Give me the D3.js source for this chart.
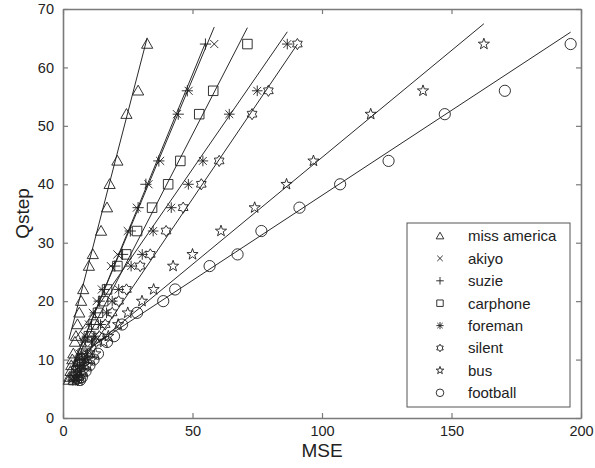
<!DOCTYPE html>
<html><head><meta charset="utf-8">
<script src="https://cdn.jsdelivr.net/npm/d3@7/dist/d3.min.js"></script>
<style>body{margin:0;background:#fff} text{font-family:"Liberation Sans",Arial,Helvetica,sans-serif;fill:#222}</style>
</head><body><svg id="c" width="595" height="468"></svg>
<script>
// ---- data ----
const qsteps = [64,56,52,44,40,36,32,28,26,22,20,18,16,14,13,11,10,9,8,7,6.5];
const seriesNames = ["miss america","akiyo","suzie","carphone","foreman","silent","bus","football"];
const seriesMarkers = ["triangle","x","plus","square","asterisk","hexagram","pentagram","circle"];
const mseMissAmerica = [32.5,29,24.5,21,18,17,14.7,11.5,10,7.8,7,6.3,5.6,5,4.6,4.0,3.6,3.2,2.9,2.5,2.3];
const mseAkiyo       = [58.4,48.5,44,37.5,33,28.5,25,21,18.5,15,13,11.5,10,8.5,7.8,6.5,5.8,5,4.4,3.8,3.4];
const mseSuzie       = [55,48,44.5,37,32,29,26,23,20,16,14,12.5,11,9.4,8.6,7.2,6.4,5.6,4.9,4.2,3.8];
const mseCarphone    = [71.2,58,52.6,45.3,40.6,34.4,28.6,24.4,21,17,15.5,13.5,11.8,10,9.2,7.6,6.8,6,5.2,4.5,4.1];
const mseForeman     = [86.6,75,64.2,54,48.4,41.8,34.8,30.6,26.3,21.5,19,16.8,14.5,12.3,11.3,9.3,8.3,7.3,6.4,5.5,5];
const mseSilent      = [90.5,79.3,73,60.3,53.4,46.4,39.8,33.7,29.8,24.5,21.5,19,16.3,14,12.8,10.5,9.3,8.2,7.1,6.1,5.6];
const mseBus         = [162.5,139,118.8,96.7,86.3,74,61,50,42.5,35,30.5,25,21.3,17.5,15.8,12.5,11,9.6,8.2,6.9,6.2];
const mseFootball    = [196,170.6,147.4,125.7,107,91.3,76.6,67.4,56.6,43.3,38.7,28.6,22.8,19.7,17,13.5,11.8,10.2,8.7,7.3,6.6];
const seriesMSE = [mseMissAmerica,mseAkiyo,mseSuzie,mseCarphone,mseForeman,mseSilent,mseBus,mseFootball];
// linear fits Qstep = slope*MSE + intercept
const fitSlopes     = [1.71,1.06,1.08,0.861,0.642,0.654,0.366,0.291];
const fitIntercepts = [9.5,5.0,4.8,5.5,10.5,4.8,8.0,9.0];
const xTicks = [0,50,100,150,200];
const yTicks = [0,10,20,30,40,50,60,70];

// ---- layout ----
const svg = d3.select("#c");
const L=63, R=581, T=9, B=418;
const x = d3.scaleLinear().domain([0,200]).range([L,R]);
const y = d3.scaleLinear().domain([0,70]).range([B,T]);
const ink = "#1e1e1e", axisCol = "#7a7a7a";

// markers
function starPath(n, ro, ri){
  let p=[];
  for(let i=0;i<2*n;i++){
    const a = -Math.PI/2 + i*Math.PI/n;
    const r = i%2===0?ro:ri;
    p.push([r*Math.cos(a), r*Math.sin(a)]);
  }
  return "M"+p.map(d=>d[0].toFixed(2)+","+d[1].toFixed(2)).join("L")+"Z";
}
function markerPath(type, s){
  switch(type){
    case "triangle": return `M0,${-s}L${s},${s*0.75}L${-s},${s*0.75}Z`;
    case "x": {const a=s*0.72; return `M${-a},${-a}L${a},${a}M${-a},${a}L${a},${-a}`;}
    case "plus": return `M${-s},0L${s},0M0,${-s}L0,${s}`;
    case "square": {const a=s*0.85; return `M${-a},${-a}L${a},${-a}L${a},${a}L${-a},${a}Z`;}
    case "asterisk": {const a=s*0.7, b=s*0.95; return `M${-b},0L${b},0M0,${-b}L0,${b}M${-a},${-a}L${a},${a}M${-a},${a}L${a},${-a}`;}
    case "hexagram": return starPath(6, s, s*0.6);
    case "pentagram": return starPath(5, s*1.05, s*0.42);
    case "circle": return `M${s},0A${s},${s} 0 1,1 ${-s},0A${s},${s} 0 1,1 ${s},0Z`;
  }
}

// axes box
const gAx = svg.append("g");
gAx.append("g").attr("transform",`translate(0,${B})`)
  .call(d3.axisBottom(x).tickValues(xTicks).tickSizeInner(-5).tickSizeOuter(0).tickPadding(8));
gAx.append("g").attr("transform",`translate(${L},0)`)
  .call(d3.axisLeft(y).tickValues(yTicks).tickSizeInner(-5).tickSizeOuter(0).tickPadding(9));
gAx.append("g").attr("transform",`translate(0,${T})`)
  .call(d3.axisTop(x).tickValues(xTicks).tickSizeInner(-5).tickSizeOuter(0).tickFormat(""));
gAx.append("g").attr("transform",`translate(${R},0)`)
  .call(d3.axisRight(y).tickValues(yTicks).tickSizeInner(-5).tickSizeOuter(0).tickFormat(""));
gAx.selectAll(".domain").attr("stroke",axisCol).attr("stroke-width",1.6);
gAx.selectAll(".tick line").attr("stroke",axisCol).attr("stroke-width",1.2);
gAx.selectAll(".tick text").attr("font-size",14.5).attr("fill","#333")
  .attr("font-family",'"Liberation Sans",Arial,sans-serif');

// fit lines
const lineG = svg.append("g");
seriesMSE.forEach((arr,i)=>{
  const x0 = d3.min(arr), x1 = d3.max(arr);
  lineG.append("line")
    .attr("x1",x(x0)).attr("y1",y(fitSlopes[i]*x0+fitIntercepts[i]))
    .attr("x2",x(x1)).attr("y2",y(fitSlopes[i]*x1+fitIntercepts[i]))
    .attr("stroke","#2a2a2a").attr("stroke-width",1);
});

// markers
const mG = svg.append("g");
seriesMSE.forEach((arr,i)=>{
  mG.selectAll(null).data(arr.map((m,j)=>({m,q:qsteps[j]}))).enter().append("path")
    .attr("transform",d=>`translate(${x(d.m)},${y(d.q)})`)
    .attr("d",markerPath(seriesMarkers[i],5.6))
    .attr("fill","none").attr("stroke",ink).attr("stroke-width",0.9);
});

// legend
const lg = svg.append("g");
lg.append("rect").attr("x",407).attr("y",223).attr("width",163).attr("height",184)
  .attr("fill","#fff").attr("stroke","#555").attr("stroke-width",1);
seriesNames.forEach((n,i)=>{
  const yy = 236 + i*22.4;
  lg.append("path").attr("transform",`translate(440,${yy})`).attr("d",markerPath(seriesMarkers[i],3.8))
    .attr("fill","none").attr("stroke",ink).attr("stroke-width",0.9);
  lg.append("text").attr("x",468).attr("y",yy).attr("dy","0.36em").attr("font-size",15).text(n);
});

// axis titles
svg.append("text").attr("x",(L+R)/2).attr("y",457).attr("text-anchor","middle").attr("font-size",19).text("MSE");
svg.append("text").attr("transform",`translate(29,${(T+B)/2}) rotate(-90)`).attr("text-anchor","middle").attr("font-size",19).text("Qstep");
</script></body></html>
